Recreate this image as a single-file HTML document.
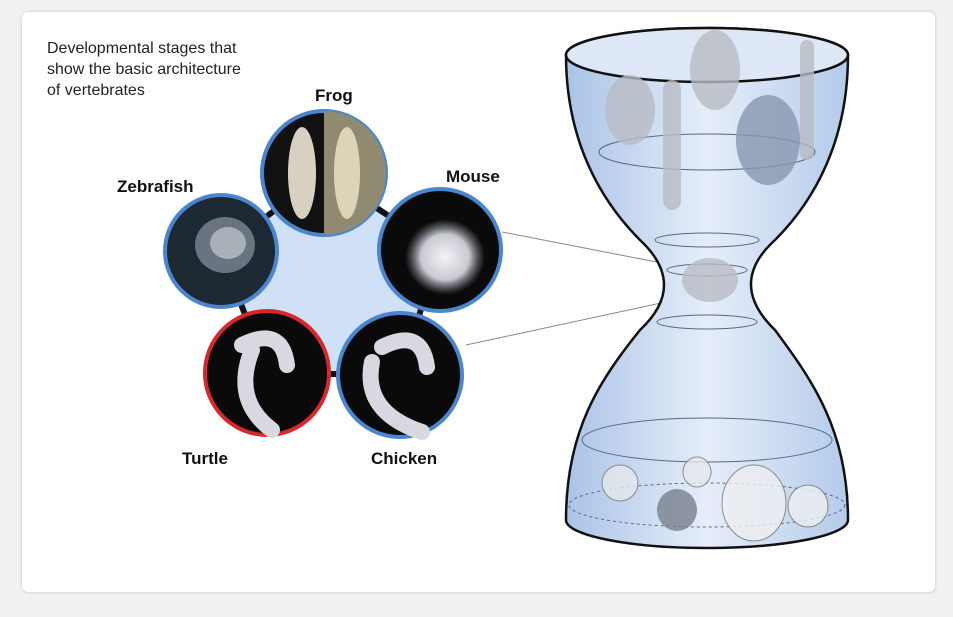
<!DOCTYPE html>
<html><head><style>
html,body{margin:0;padding:0;background:#f1f1f1;}
body{width:953px;height:617px;position:relative;overflow:hidden;font-family:"Liberation Sans",sans-serif;}
.card{position:absolute;left:22px;top:12px;width:913px;height:580px;background:#fff;border-radius:6px;box-shadow:0 0 3px rgba(0,0,0,0.2);}
</style></head><body>
<div class="card"></div>
<svg width="953" height="617" style="position:absolute;left:0;top:0">
<defs>
<linearGradient id="hg" x1="0" x2="1" y1="0" y2="0">
<stop offset="0" stop-color="#aac3e6"/><stop offset="0.5" stop-color="#e6eef9"/><stop offset="1" stop-color="#b4cbea"/>
</linearGradient>
<radialGradient id="emb" cx="0.5" cy="0.5" r="0.5"><stop offset="0" stop-color="#f4f4f6"/><stop offset="0.6" stop-color="#c8cad2"/><stop offset="1" stop-color="#8a8e98" stop-opacity="0"/></radialGradient>
</defs>
<text x="47" y="53" font-size="16" fill="#222">Developmental stages that</text>
<text x="47" y="74" font-size="16" fill="#222">show the basic architecture</text>
<text x="47" y="95" font-size="16" fill="#222">of vertebrates</text>
<polygon points="324,173 440,250 400,375 267,373 221,251" fill="#cfe0f7" stroke="#111" stroke-width="6"/>
<g stroke-width="4">
<circle cx="324" cy="173" r="62" fill="#111" stroke="#4a86d0"/>
<path d="M324 111 A62 62 0 0 1 324 235 Z" fill="#8f8a70"/>
<circle cx="440" cy="250" r="61" fill="#0a0a0a" stroke="#4a86d0"/>
<circle cx="400" cy="375" r="62" fill="#0a0a0a" stroke="#4a86d0"/>
<circle cx="267" cy="373" r="62" fill="#0a0a0a" stroke="#d8262a"/>
<circle cx="221" cy="251" r="56" fill="#1c2832" stroke="#4a86d0"/>
</g>
<ellipse cx="302" cy="173" rx="14" ry="46" fill="#d8d0c0"/>
<ellipse cx="347" cy="173" rx="13" ry="46" fill="#ddd4b8"/>
<ellipse cx="445" cy="257" rx="40" ry="38" fill="url(#emb)"/>
<ellipse cx="225" cy="245" rx="30" ry="28" fill="#6a7480"/>
<ellipse cx="228" cy="243" rx="18" ry="16" fill="#a8b0b8"/>
<path d="M242 345 q40 -20 45 20 M252 350 q-20 50 20 80" stroke="#d8d8e0" stroke-width="16" fill="none" stroke-linecap="round"/>
<path d="M382 347 q40 -20 45 20 M372 362 q-10 50 50 70" stroke="#d8d8e0" stroke-width="16" fill="none" stroke-linecap="round"/>
<g font-weight="bold" font-size="17" fill="#111">
<text x="315" y="101">Frog</text>
<text x="446" y="182">Mouse</text>
<text x="117" y="192">Zebrafish</text>
<text x="182" y="464">Turtle</text>
<text x="371" y="464">Chicken</text>
</g>
<line x1="502" y1="232" x2="672" y2="265" stroke="#888" stroke-width="1"/>
<line x1="466" y1="345" x2="675" y2="300" stroke="#888" stroke-width="1"/>
<path d="M566 55 C566 140 600 200 640 240 C672 270 672 300 640 330 C600 380 566 430 566 520 A141 28 0 0 0 848 520 C848 430 812 380 775 330 C744 300 742 270 775 240 C815 200 848 140 848 55 A141 27 0 0 0 566 55 Z" fill="url(#hg)" stroke="#111" stroke-width="2.5"/>
<ellipse cx="707" cy="55" rx="141" ry="27" fill="#dde7f5" stroke="#111" stroke-width="2.5"/>
<g fill="none" stroke="#556a88" stroke-width="1">
<ellipse cx="707" cy="152" rx="108" ry="18"/>
<ellipse cx="707" cy="240" rx="52" ry="7"/>
<ellipse cx="707" cy="270" rx="40" ry="6"/>
<ellipse cx="707" cy="322" rx="50" ry="7"/>
<ellipse cx="707" cy="440" rx="125" ry="22"/>
<ellipse cx="707" cy="505" rx="138" ry="22" stroke-dasharray="3,3"/>
</g>
<g fill="#b8bcc4" opacity="0.8">
<ellipse cx="630" cy="110" rx="25" ry="35"/>
<ellipse cx="715" cy="70" rx="25" ry="40"/>
<ellipse cx="768" cy="140" rx="32" ry="45" fill="#8898b0"/>
<rect x="663" y="80" width="18" height="130" rx="9"/>
<rect x="800" y="40" width="14" height="120" rx="7"/>
<ellipse cx="710" cy="280" rx="28" ry="22"/>
<ellipse cx="620" cy="483" rx="18" ry="18" fill="#e6e8ec" stroke="#777"/>
<ellipse cx="697" cy="472" rx="14" ry="15" fill="#e6e8ec" stroke="#777"/>
<ellipse cx="677" cy="510" rx="20" ry="21" fill="#7a808c"/>
<ellipse cx="754" cy="503" rx="32" ry="38" fill="#eef0f2" stroke="#777"/>
<ellipse cx="808" cy="506" rx="20" ry="21" fill="#eef0f2" stroke="#777"/>
</g>
</svg>
</body></html>
